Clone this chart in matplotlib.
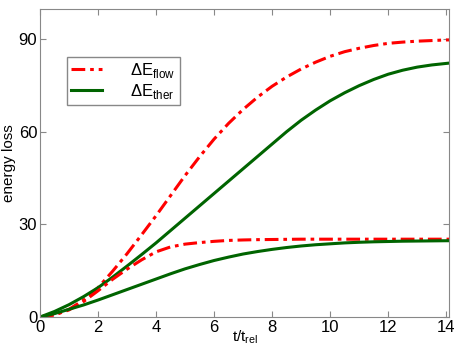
import matplotlib
matplotlib.use("Agg")
import matplotlib.pyplot as plt

plt.rcParams['font.family'] = ['Liberation Sans', 'DejaVu Sans']

t = [0, 0.5, 1, 1.5, 2, 2.5, 3, 3.5, 4, 4.5, 5, 5.5, 6, 6.5, 7, 7.5, 8, 8.5,
     9, 9.5, 10, 10.5, 11, 11.5, 12, 12.5, 13, 13.5, 14, 14.1]

flow_big = [0, 0.7, 2.5, 5.5, 9.5, 14.8, 20.5, 26.6, 32.8, 39.3, 45.8, 51.9,
            57.6, 62.7, 67.2, 71.2, 74.7, 77.7, 80.3, 82.5, 84.4, 85.9, 87,
            87.9, 88.6, 89, 89.3, 89.5, 89.7, 89.7]
ther_big = [0, 1.8, 4, 6.6, 9.5, 12.9, 16.5, 20.2, 24, 28, 32, 36, 40, 44, 48,
            52, 56, 60, 63.7, 67, 70, 72.6, 74.9, 76.9, 78.6, 79.9, 80.9,
            81.6, 82.1, 82.2]
flow_small = [0, 0.7, 2.3, 5, 8.5, 12.2, 15.5, 18.5, 21.1, 22.7, 23.6, 24.1,
              24.5, 24.8, 24.95, 25.05, 25.1, 25.15, 25.2, 25.2, 25.2, 25.2,
              25.2, 25.2, 25.2, 25.2, 25.2, 25.2, 25.2, 25.2]
ther_small = [0, 1.1, 2.5, 3.9, 5.5, 7.2, 8.9, 10.6, 12.3, 14, 15.6, 17, 18.3,
              19.4, 20.4, 21.2, 21.9, 22.5, 23, 23.4, 23.7, 24, 24.2, 24.35,
              24.45, 24.55, 24.6, 24.65, 24.7, 24.7]

xticks = [0, 2, 4, 6, 8, 10, 12, 14]
yticks = [0, 30, 60, 90]

red = '#ff0000'
green = '#006400'
dashdot = (0, (4.5, 1.6, 1.2, 1.6))

fig = plt.figure(figsize=(4.63, 3.48), dpi=100)
ax = fig.add_axes([0.0864, 0.089, 0.8836, 0.885])

l1, = ax.plot(t, flow_big, color=red, lw=2.2, ls=dashdot,
              label='ΔE$_{\\mathregular{flow}}$')
l2, = ax.plot(t, ther_big, color=green, lw=2.2,
              label='ΔE$_{\\mathregular{ther}}$')
ax.plot(t, flow_small, color=red, lw=2.2, ls=dashdot)
ax.plot(t, ther_small, color=green, lw=2.2)

ax.set_xlim(0, 14.1)
ax.set_ylim(0, 99.7)
ax.set_xticks(xticks)
ax.set_yticks(yticks)
ax.tick_params(direction='in', top=True, right=True, labelsize=12,
               color='#888888', length=4, pad=2)
for s in ax.spines.values():
    s.set_color('#888888')

ax.set_xlabel('t/t$_{\\mathregular{rel}}$', fontsize=11, labelpad=-5)
ax.set_ylabel('energy loss', fontsize=11, labelpad=2)

leg = ax.legend(handles=[l1, l2], loc='upper left',
                bbox_to_anchor=(0.066, 0.845), fontsize=12,
                handlelength=1.85, handletextpad=1.7, borderpad=0.25,
                labelspacing=0.1, fancybox=False, framealpha=1,
                edgecolor='#888888', borderaxespad=0)
leg.get_frame().set_linewidth(1.0)

fig.savefig('out.png', dpi=100)
